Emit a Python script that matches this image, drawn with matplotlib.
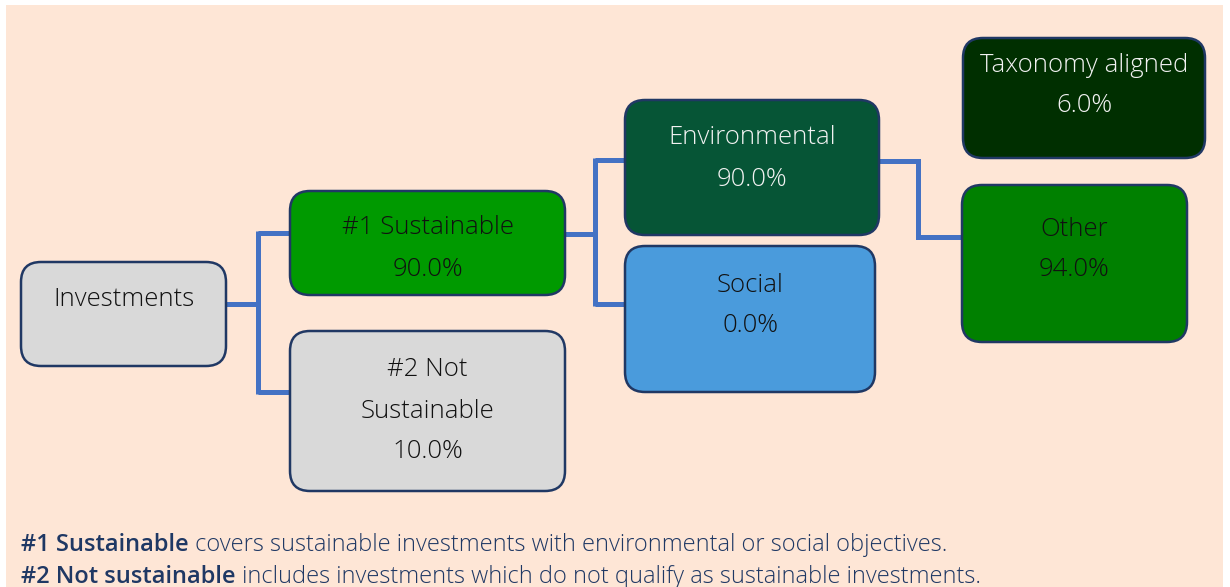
import matplotlib
matplotlib.use("Agg")
import matplotlib.pyplot as plt
from matplotlib.patches import FancyBboxPatch, Rectangle

# ---- data ----
node_names = ["Investments", "#1 Sustainable", "#2 Not\nSustainable", "Environmental",
              "Social", "Taxonomy aligned", "Other"]
node_values = [None, 90.0, 10.0, 90.0, 0.0, 6.0, 94.0]
footnote_bold = ["#1 Sustainable", "#2 Not sustainable"]
footnote_rest = [" covers sustainable investments with environmental or social objectives.",
                 " includes investments which do not qualify as sustainable investments."]

# ---- layout (pixels) ----
W, H = 1230, 587
boxes = [  # x0, y0, x1, y1
    (21, 262, 226, 366),
    (290, 191, 565, 295),
    (290, 331, 565, 491),
    (625, 100, 879, 235),
    (625, 246, 875, 392),
    (963, 38, 1205, 158),
    (962, 185, 1187, 342),
]
text_top = [300, 228, 370, 138, 285, 65, 229]
fills = ["#D9D9D9", "#009A00", "#D9D9D9", "#065536", "#4A9BDC", "#002F00", "#008000"]
txt_colors = ["#111111", "#111111", "#111111", "#F2F2F2", "#111111", "#F2F2F2", "#111111"]
edge = "#203864"
line_c = "#4472C4"
line_h = 41

fig = plt.figure(figsize=(W / 100, H / 100), dpi=100)
ax = fig.add_axes([0, 0, 1, 1])
ax.set_xlim(0, W)
ax.set_ylim(H, 0)
ax.axis("off")
fig.patch.set_facecolor("white")

ax.add_patch(Rectangle((6, 5), 1217, 600, facecolor="#FEE6D6", edgecolor="none", zorder=0))

font = ["Open Sans", "DejaVu Sans"]

# connectors
lw = 3.6
def conn(x0, y0, xm, ys, x1):
    ax.plot([x0, xm], [y0, y0], color=line_c, lw=lw, solid_capstyle="butt", zorder=1)
    ax.plot([xm, xm], [min(ys) - 2, max(ys) + 2], color=line_c, lw=lw, solid_capstyle="butt", zorder=1)
    for y in ys:
        ax.plot([xm, x1], [y, y], color=line_c, lw=lw, solid_capstyle="butt", zorder=1)

conn(226, 304, 258, [233, 392], 290)
conn(565, 234, 595, [160, 304], 625)
ax.plot([876, 918, 918, 962], [161, 161, 237, 237], color=line_c, lw=lw,
        solid_joinstyle="miter", zorder=1)

for i, (x0, y0, x1, y1) in enumerate(boxes):
    p = FancyBboxPatch((x0, y0), x1 - x0, y1 - y0,
                       boxstyle="round,pad=0,rounding_size=20",
                       facecolor=fills[i], edgecolor=edge, lw=1.8, zorder=2)
    ax.add_patch(p)
    lines = node_names[i].split("\n")
    if node_values[i] is not None:
        lines.append(f"{node_values[i]:.1f}%")
    cx = (x0 + x1) / 2
    for k, s in enumerate(lines):
        ax.text(cx, text_top[i] + k * line_h, s, ha="center", va="center",
                fontsize=18.5, color=txt_colors[i], family=font, fontweight="light", zorder=3)

ys = [545, 577]
for k in range(2):
    t = ax.text(21, ys[k], footnote_bold[k], ha="left", va="center", fontsize=17,
                color="#1F3864", family=font, fontweight="semibold", zorder=3)
    ax.annotate(footnote_rest[k], xy=(1, 0.5), xycoords=t, ha="left", va="center",
                fontsize=17, color="#1F3864", family=font, fontweight="light", zorder=3)

fig.savefig("out.png", dpi=100, facecolor="white")
